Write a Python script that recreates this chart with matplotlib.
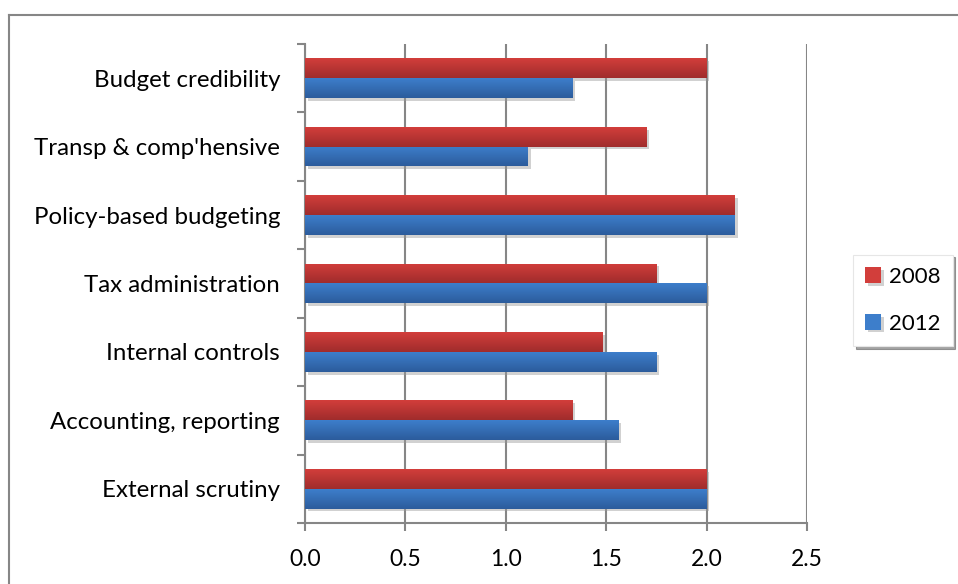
import numpy as np
import matplotlib
matplotlib.use('Agg')
from matplotlib import pyplot as plt
from matplotlib import patheffects as pe
from matplotlib.colors import LinearSegmentedColormap
from matplotlib.lines import Line2D

plt.rcParams['font.family'] = ['Lato', 'DejaVu Sans']

categories = ['Budget credibility', "Transp & comp'hensive", 'Policy-based budgeting',
              'Tax administration', 'Internal controls', 'Accounting, reporting',
              'External scrutiny']
vals_2008 = [2.0, 1.70, 2.14, 1.75, 1.48, 1.33, 2.0]
vals_2012 = [1.33, 1.11, 2.14, 2.0, 1.75, 1.56, 2.0]
xticks = [0.0, 0.5, 1.0, 1.5, 2.0, 2.5]

red_top, red_bot = '#D23E3B', '#A02C2C'
blue_top, blue_bot = '#3D7ECB', '#2C5C9C'
grey = '#868686'

fig = plt.figure(figsize=(9.58, 5.84), dpi=100)
ax = fig.add_axes([0.3184, 0.1045, 0.524, 0.8202])

n = len(categories)
y = np.arange(n)[::-1]  # first category on top
h = 0.29

shadow = [pe.SimplePatchShadow(offset=(2, -2), shadow_rgbFace='#999999', alpha=0.45), pe.Normal()]
bars08 = ax.barh(y + h / 2, vals_2008, height=h, color=red_top, zorder=3, path_effects=shadow, label='2008')
bars12 = ax.barh(y - h / 2, vals_2012, height=h, color=blue_top, zorder=3, path_effects=shadow, label='2012')

# gradient fill on each bar (light at top, dark at bottom)
grad = np.linspace(0, 1, 64).reshape(-1, 1)
for bars, top, bot in [(bars08, red_top, red_bot), (bars12, blue_top, blue_bot)]:
    cmap = LinearSegmentedColormap.from_list('g', [top, bot])
    for b in bars:
        x0, y0 = b.get_x(), b.get_y()
        im = ax.imshow(grad, extent=(x0, x0 + b.get_width(), y0, y0 + b.get_height()),
                       aspect='auto', cmap=cmap, origin='upper', zorder=4)
        im.set_clip_path(b)

ax.set_xlim(0, 2.5)
ax.set_ylim(-0.5, n - 0.5)
ax.set_xticks(xticks)
ax.set_xticklabels(['%.1f' % t for t in xticks], fontsize=16.5)
ax.set_yticks(y)
ax.set_yticklabels(categories, fontsize=17.3)
ax.set_yticks(np.arange(n + 1) - 0.5, minor=True)

ax.tick_params(axis='y', which='major', length=0, pad=18)
ax.tick_params(axis='y', which='minor', length=6, width=1.5, color=grey)
ax.tick_params(axis='x', length=6, width=1.5, color=grey, pad=13)

ax.grid(axis='x', color=grey, linewidth=1.5, zorder=0)
ax.set_axisbelow(True)
for s in ['top', 'right']:
    ax.spines[s].set_visible(False)
for s in ['left', 'bottom']:
    ax.spines[s].set_color(grey)
    ax.spines[s].set_linewidth(1.5)

leg = ax.legend(loc='center left', bbox_to_anchor=(1.092, 0.465), borderaxespad=0,
                fontsize=16, frameon=True, fancybox=False, shadow=True,
                handlelength=0.7, handleheight=0.7, labelspacing=1.2,
                borderpad=0.55, handletextpad=0.35)
leg.get_frame().set_edgecolor('#E6E6E6')
leg.get_frame().set_linewidth(0.8)

# outer chart frame (cut off at right and bottom)
fx = 8.5 / 958
fy = 1 - 15 / 584
fig.add_artist(Line2D([fx, fx], [0, fy], transform=fig.transFigure, color=grey, linewidth=1.5))
fig.add_artist(Line2D([fx, 1], [fy, fy], transform=fig.transFigure, color=grey, linewidth=1.5))

plt.savefig('out.png', dpi=100)
